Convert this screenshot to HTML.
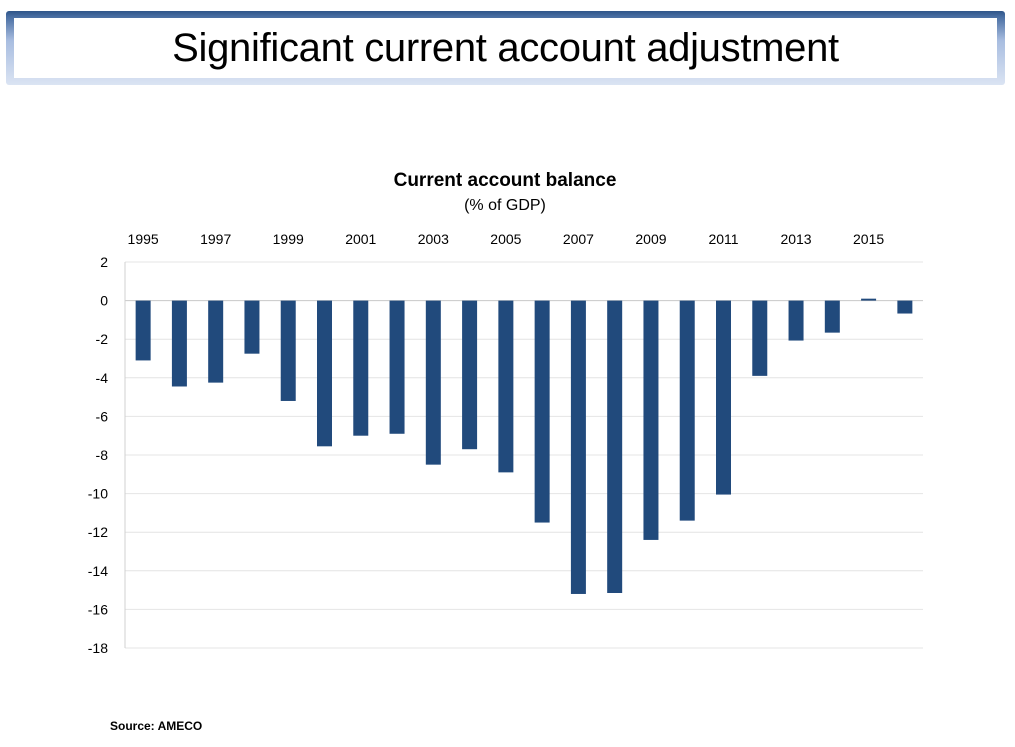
<!DOCTYPE html>
<html><head><meta charset="utf-8">
<style>
body{margin:0;width:1015px;height:747px;background:#fff;font-family:"Liberation Sans",sans-serif;position:relative;overflow:hidden}
#banner{position:absolute;left:6px;top:11px;width:999px;height:74px;background:linear-gradient(#2f5589 0,#4a6fa3 8%,#a8bde0 40%,#dbe4f3 100%);border-radius:3px}
#banner-inner{position:absolute;left:8px;top:7px;width:983px;height:60px;background:#fff;text-align:center;font-size:40px;line-height:60px;color:#000;letter-spacing:-0.3px}
#src{position:absolute;left:110px;top:719px;font-size:12px;font-weight:bold;color:#000}
</style></head><body>
<div id="banner"><div id="banner-inner">Significant current account adjustment</div></div>
<svg id="chart" width="1015" height="747" style="position:absolute;left:0;top:0">
<text x="505" y="186" text-anchor="middle" font-size="19" font-weight="bold" font-family="Liberation Sans, sans-serif">Current account balance</text>
<text x="505" y="210" text-anchor="middle" font-size="16" font-family="Liberation Sans, sans-serif">(% of GDP)</text>
<g id="grid"></g><g id="bars"></g><g id="xlab"></g><g id="ylab"></g>
</svg>
<div id="src">Source: AMECO</div>
<script>
const years=[1995,1996,1997,1998,1999,2000,2001,2002,2003,2004,2005,2006,2007,2008,2009,2010,2011,2012,2013,2014,2015,2016];
const values=[-3.1,-4.45,-4.25,-2.75,-5.2,-7.55,-7.0,-6.9,-8.5,-7.7,-8.9,-11.5,-15.2,-15.15,-12.4,-11.4,-10.05,-3.9,-2.07,-1.66,0.1,-0.67];
const yTicks=[2,0,-2,-4,-6,-8,-10,-12,-14,-16,-18];
const xLabels=["1995","1997","1999","2001","2003","2005","2007","2009","2011","2013","2015"];
const NS="http://www.w3.org/2000/svg";
const L=125,R=923,T=262,B=648,ymax=2,ymin=-18;
const y=v=>T+(ymax-v)/(ymax-ymin)*(B-T);
const step=(R-L)/years.length;
const xc=i=>L+step*(i+0.5);
function mk(tag,attrs,parent){const e=document.createElementNS(NS,tag);for(const k in attrs)e.setAttribute(k,attrs[k]);document.getElementById(parent).appendChild(e);return e;}
yTicks.forEach(t=>{
 const l=mk('line',{x1:L,x2:R,y1:y(t),y2:y(t),stroke:t===0?'#c8c8c8':'#e4e4e4','stroke-width':1},'grid');
 
 
 const tx=mk('text',{x:108,y:y(t)+5,'text-anchor':'end','font-size':14,'font-family':'Liberation Sans, sans-serif'},'ylab');
 tx.textContent=t;
 
 
});
const ax=mk('line',{x1:L,x2:L,y1:T,y2:B,stroke:'#d0d0d0'},'grid');


values.forEach((v,i)=>{
 const y0=y(0),y1=y(v);
 const r=mk('rect',{x:xc(i)-7.5,y:Math.min(y0,y1),width:15,height:Math.max(1,Math.abs(y1-y0)),fill:'#214a7c'},'bars');
 
 
});
xLabels.forEach(s=>{
 const i=years.indexOf(+s);
 const tx=mk('text',{x:xc(i),y:244,'text-anchor':'middle','font-size':14,'font-family':'Liberation Sans, sans-serif'},'xlab');
 tx.textContent=s;
 
 
});
</script>
</body></html>
